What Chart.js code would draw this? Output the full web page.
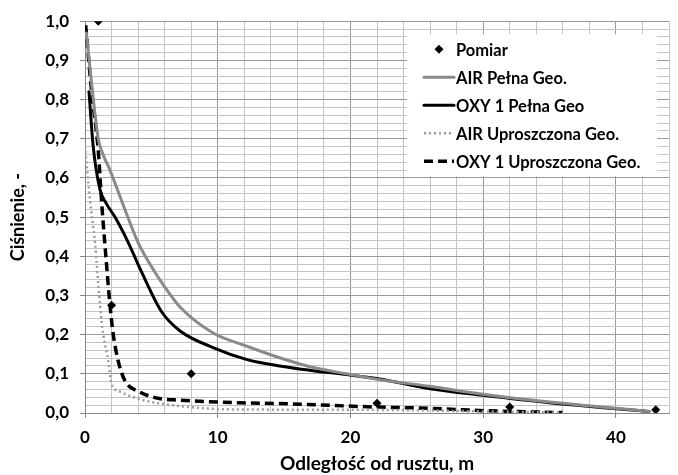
<!DOCTYPE html>
<html>
<head>
<meta charset="utf-8">
<script src="https://cdn.jsdelivr.net/npm/chart.js@4.4.1/dist/chart.umd.min.js"></script>
<style>
  html, body { margin: 0; padding: 0; background: #fff; }
  #wrap { width: 678px; height: 475px; position: relative; }
</style>
</head>
<body>
<div id="wrap"><canvas id="chart"></canvas></div>
<script>
// measured pressure
const pomiar_x = [1, 2, 8, 22, 32, 43];
const pomiar_y = [1.0, 0.275, 0.10, 0.025, 0.015, 0.008];

// AIR, full geometry
const air_full_x = [0.1, 0.5, 1.0, 1.3, 1.88, 3.0, 4.0, 5.26, 6.26, 7.14, 9.65, 12.15, 14.66, 17.2, 19.7, 22.2, 26, 30, 35, 40, 42.5];
const air_full_y = [0.97, 0.84, 0.70, 0.665, 0.62, 0.52, 0.435, 0.36, 0.31, 0.271, 0.204, 0.171, 0.141, 0.116, 0.1, 0.085, 0.068, 0.048, 0.028, 0.012, 0.004];

// OXY 1, full geometry
const oxy_full_x = [0.3, 0.62, 1.13, 1.6, 2.26, 3.26, 4.26, 5.76, 7.14, 9.65, 12.15, 14.66, 17.2, 19.7, 22.2, 26, 30, 35, 40, 42.5];
const oxy_full_y = [0.82, 0.68, 0.57, 0.535, 0.5, 0.435, 0.36, 0.259, 0.21, 0.167, 0.137, 0.12, 0.108, 0.098, 0.087, 0.062, 0.045, 0.026, 0.011, 0.004];

// AIR, simplified geometry
const air_simple_x = [0, 0.38, 0.75, 1.13, 1.38, 1.75, 2.0, 2.6, 3.6, 5.0, 6.6, 9.0, 11.65, 22, 30, 36];
const air_simple_y = [0.68, 0.543, 0.435, 0.276, 0.2, 0.133, 0.075, 0.055, 0.041, 0.028, 0.02, 0.012, 0.009, 0.008, 0.004, 0.001];

// OXY 1, simplified geometry
const oxy_simple_x = [0.05, 0.5, 1.0, 1.25, 1.63, 1.88, 2.13, 2.5, 3.0, 4.1, 5.6, 7.1, 11.65, 14.7, 22.2, 26, 30, 36];
const oxy_simple_y = [0.99, 0.82, 0.67, 0.54, 0.376, 0.276, 0.2, 0.133, 0.083, 0.054, 0.037, 0.033, 0.026, 0.024, 0.015, 0.012, 0.006, 0.001];

const series_labels = ["Pomiar", "AIR Pełna Geo.", "OXY 1 Pełna Geo", "AIR Uproszczona Geo.", "OXY 1 Uproszczona Geo."];

const x_title = "Odległość od rusztu, m";
const y_title = "Ciśnienie, -";

const FONT = "Lato, 'Liberation Sans', sans-serif";
const GRID_MAJOR = "#999999";
const GRID_MINOR = "#c4c4c4";

function pts(xs, ys) {
  return xs.map((x, i) => ({x: x, y: ys[i]}));
}

function lineSet(label, xs, ys, color, width, dash) {
  return {
    label: label,
    data: pts(xs, ys),
    showLine: true,
    borderColor: color,
    backgroundColor: color,
    borderWidth: width,
    borderDash: dash,
    borderCapStyle: dash.length ? "butt" : "round",
    pointRadius: 0,
    pointHoverRadius: 0,
    cubicInterpolationMode: "monotone",
  };
}

const datasets = [
  {
    label: series_labels[0],
    data: pts(pomiar_x, pomiar_y),
    showLine: false,
    pointStyle: "rectRot",
    pointRadius: 4.5,
    borderWidth: 0,
    backgroundColor: "#000",
    borderColor: "#000",
  },
  lineSet(series_labels[1], air_full_x, air_full_y, "#8a8a8a", 3, []),
  lineSet(series_labels[2], oxy_full_x, oxy_full_y, "#000", 3, []),
  lineSet(series_labels[3], air_simple_x, air_simple_y, "#9c9c9c", 2.5, [2, 3]),
  lineSet(series_labels[4], oxy_simple_x, oxy_simple_y, "#000", 3.5, [9, 5]),
];

function isMajorX(v) { return Math.abs(v % 10) < 1e-6; }
function isMajorY(v) { return Math.abs(v * 10 - Math.round(v * 10)) < 1e-6; }

// legend drawn inside the plot, white box over the grid
const innerLegend = {
  id: "innerLegend",
  afterDraw(chart) {
    const {ctx, chartArea} = chart;
    const x0 = chartArea.right - 262, y0 = chartArea.top + 13;
    const w = 250, h = 142;
    ctx.save();
    ctx.fillStyle = "#fff";
    ctx.fillRect(x0, y0, w, h);
    ctx.font = "bold 16.5px " + FONT;
    ctx.textBaseline = "middle";
    chart.data.datasets.forEach((ds, i) => {
      const y = y0 + 15 + i * 28;
      const sx = x0 + 17, ex = x0 + 47;
      if (ds.showLine) {
        ctx.strokeStyle = ds.borderColor;
        ctx.lineWidth = ds.borderWidth;
        ctx.setLineDash(ds.borderDash);
        ctx.lineCap = ds.borderCapStyle;
        ctx.beginPath();
        ctx.moveTo(sx, y);
        ctx.lineTo(ex, y);
        ctx.stroke();
        ctx.setLineDash([]);
      } else {
        const cx = (sx + ex) / 2, r = ds.pointRadius;
        ctx.fillStyle = ds.backgroundColor;
        ctx.beginPath();
        ctx.moveTo(cx, y - r);
        ctx.lineTo(cx + r, y);
        ctx.lineTo(cx, y + r);
        ctx.lineTo(cx - r, y);
        ctx.closePath();
        ctx.fill();
      }
      ctx.fillStyle = "#000";
      ctx.fillText(ds.label, ex + 2, y + 1);
    });
    ctx.restore();
  },
};

new Chart(document.getElementById("chart"), {
  type: "scatter",
  data: { datasets: datasets },
  options: {
    responsive: true,
    maintainAspectRatio: false,
    animation: false,
    events: [],
    layout: { padding: { top: 15, right: 8, bottom: 0, left: 0 } },
    plugins: {
      legend: { display: false },
      tooltip: { enabled: false },
    },
    scales: {
      x: {
        type: "linear",
        min: 0,
        max: 44,
        afterFit: (scale) => { scale.height = 62; },
        ticks: {
          stepSize: 2,
          autoSkip: false,
          maxRotation: 0,
          padding: 9,
          color: "#000",
          font: { family: FONT, size: 17, weight: "bold" },
          callback: (v) => isMajorX(v) ? String(v) : "",
        },
        grid: {
          color: (c) => isMajorX(c.tick.value) ? GRID_MAJOR : GRID_MINOR,
          tickColor: (c) => isMajorX(c.tick.value) ? "#888" : "rgba(0,0,0,0)",
          tickLength: 5,
          lineWidth: 1,
        },
        border: { color: "#888", width: 1 },
        title: {
          display: true,
          text: x_title,
          color: "#000",
          font: { family: FONT, size: 19, weight: "bold" },
          padding: { top: 0, bottom: 0 },
        },
      },
      y: {
        min: 0,
        max: 1,
        afterFit: (scale) => { scale.width = 85; },
        ticks: {
          stepSize: 0.02,
          autoSkip: false,
          padding: 11,
          color: "#000",
          font: { family: FONT, size: 17, weight: "bold" },
          callback: (v) => isMajorY(v) ? (Math.round(v * 10) / 10).toFixed(1).replace(".", ",") : "",
        },
        grid: {
          color: (c) => isMajorY(c.tick.value) ? GRID_MAJOR : GRID_MINOR,
          tickColor: (c) => isMajorY(c.tick.value) ? "#888" : "rgba(0,0,0,0)",
          tickLength: 5,
          lineWidth: 1,
        },
        border: { color: "#888", width: 1 },
        title: {
          display: true,
          text: y_title,
          color: "#000",
          font: { family: FONT, size: 18, weight: "bold" },
          padding: { top: 7, bottom: 0 },
        },
      },
    },
  },
  plugins: [innerLegend],
});
</script>
</body>
</html>
